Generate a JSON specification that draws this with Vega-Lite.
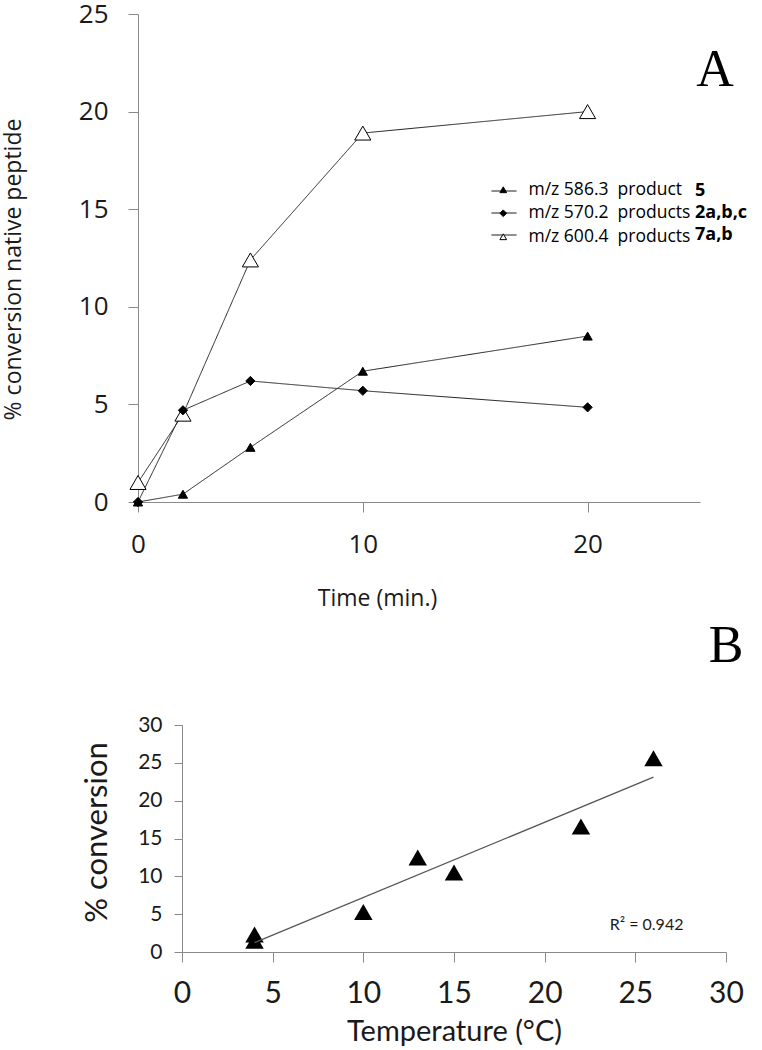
{
  "$schema": "https://vega.github.io/schema/vega-lite/v6.json",
  "background": "white",
  "padding": {"left": 2, "top": 1, "right": 0, "bottom": 0},
  "bounds": "flush",
  "spacing": 223,
  "config": {
    "view": {"stroke": null},
    "axis": {"grid": false, "domainColor": "#898989", "tickColor": "#898989", "labelColor": "#1a1a1a", "titleColor": "#1a1a1a", "titleFontWeight": "normal", "labelOverlap": false, "labelFlush": false}
  },
  "vconcat": [
    {
      "width": 562,
      "height": 488,
      "data": {"values": [
        {"time": 0, "conv": 1.0, "series": "m/z 600.4\u00a0 products", "cmpd": "7a,b"},
        {"time": 2, "conv": 4.5, "series": "m/z 600.4\u00a0 products", "cmpd": "7a,b"},
        {"time": 5, "conv": 12.4, "series": "m/z 600.4\u00a0 products", "cmpd": "7a,b"},
        {"time": 10, "conv": 18.9, "series": "m/z 600.4\u00a0 products", "cmpd": "7a,b"},
        {"time": 20, "conv": 20.0, "series": "m/z 600.4\u00a0 products", "cmpd": "7a,b"},
        {"time": 0, "conv": 0.0, "series": "m/z 586.3\u00a0 product", "cmpd": "5"},
        {"time": 2, "conv": 0.4, "series": "m/z 586.3\u00a0 product", "cmpd": "5"},
        {"time": 5, "conv": 2.8, "series": "m/z 586.3\u00a0 product", "cmpd": "5"},
        {"time": 10, "conv": 6.7, "series": "m/z 586.3\u00a0 product", "cmpd": "5"},
        {"time": 20, "conv": 8.5, "series": "m/z 586.3\u00a0 product", "cmpd": "5"},
        {"time": 0, "conv": 0.0, "series": "m/z 570.2\u00a0 products", "cmpd": "2a,b,c"},
        {"time": 2, "conv": 4.7, "series": "m/z 570.2\u00a0 products", "cmpd": "2a,b,c"},
        {"time": 5, "conv": 6.2, "series": "m/z 570.2\u00a0 products", "cmpd": "2a,b,c"},
        {"time": 10, "conv": 5.7, "series": "m/z 570.2\u00a0 products", "cmpd": "2a,b,c"},
        {"time": 20, "conv": 4.85, "series": "m/z 570.2\u00a0 products", "cmpd": "2a,b,c"}
      ]},
      "layer": [
        {
          "mark": {"type": "line", "color": "#222222", "strokeWidth": 1},
          "encoding": {
            "x": {"field": "time", "type": "quantitative", "scale": {"domain": [0, 25], "nice": false, "zero": false},
              "axis": {"values": [0, 10, 20], "title": "Time (min.)", "tickSize": 10, "labelFont": "Open Sans", "labelFontSize": 26, "labelPadding": 19, "titleFont": "Open Sans", "titleFontSize": 23, "titlePadding": 30, "titleX": 239}},
            "y": {"field": "conv", "type": "quantitative", "scale": {"domain": [0, 25], "nice": false, "zero": false},
              "axis": {"values": [0, 5, 10, 15, 20, 25], "title": "% conversion native peptide", "tickSize": 10, "labelFont": "Open Sans", "labelFontSize": 26, "labelPadding": 20, "titleFont": "Open Sans", "titleFontSize": 23, "titlePadding": 53, "titleY": 255}},
            "strokeDash": {"field": "cmpd", "type": "nominal",
              "scale": {"domain": ["5", "2a,b,c", "7a,b"], "range": [[1, 0], [1, 0], [1, 0]]},
              "legend": {"orient": "none", "legendX": 353, "legendY": 164, "title": null, "padding": 0, "symbolType": "stroke", "symbolSize": 625, "symbolStrokeWidth": 1, "symbolStrokeColor": "#000000", "labelFont": "Open Sans", "labelFontSize": 18, "labelFontWeight": "bold", "labelColor": "#000000", "labelOffset": 178, "labelLimit": 300, "rowPadding": -1}}
          }
        },
        {
          "transform": [{"filter": "datum.cmpd == '7a,b'"}],
          "mark": {"type": "point", "filled": true, "size": 260, "strokeWidth": 1, "opacity": 1},
          "encoding": {
            "x": {"field": "time", "type": "quantitative", "scale": {"domain": [0, 25], "nice": false, "zero": false},
              "axis": {"values": [0, 10, 20], "title": "Time (min.)", "tickSize": 10, "labelFont": "Open Sans", "labelFontSize": 26, "labelPadding": 19, "titleFont": "Open Sans", "titleFontSize": 23, "titlePadding": 30, "titleX": 239}},
            "y": {"field": "conv", "type": "quantitative", "scale": {"domain": [0, 25], "nice": false, "zero": false},
              "axis": {"values": [0, 5, 10, 15, 20, 25], "title": "% conversion native peptide", "tickSize": 10, "labelFont": "Open Sans", "labelFontSize": 26, "labelPadding": 20, "titleFont": "Open Sans", "titleFontSize": 23, "titlePadding": 53, "titleY": 255}},
            "shape": {"field": "series", "type": "nominal",
              "scale": {"domain": ["m/z 586.3\u00a0 product", "m/z 570.2\u00a0 products", "m/z 600.4\u00a0 products"], "range": ["triangle-up", "diamond", "triangle-up"]},
              "legend": {"orient": "none", "legendX": 356.5, "legendY": 167, "title": null, "padding": 0, "symbolSize": 45, "symbolStrokeWidth": 1, "labelFont": "Open Sans", "labelFontSize": 17.5, "labelColor": "#000000", "labelOffset": 16.5, "labelLimit": 300, "rowPadding": 4.5}},
            "fill": {"field": "series", "type": "nominal",
              "scale": {"domain": ["m/z 586.3\u00a0 product", "m/z 570.2\u00a0 products", "m/z 600.4\u00a0 products"], "range": ["#000000", "#000000", "#ffffff"]}},
            "stroke": {"field": "series", "type": "nominal",
              "scale": {"domain": ["m/z 586.3\u00a0 product", "m/z 570.2\u00a0 products", "m/z 600.4\u00a0 products"], "range": ["#000000", "#000000", "#000000"]}}
          }
        },
        {
          "transform": [{"filter": "datum.cmpd != '7a,b'"}],
          "mark": {"type": "point", "filled": true, "size": 85, "strokeWidth": 1, "opacity": 1},
          "encoding": {
            "x": {"field": "time", "type": "quantitative", "scale": {"domain": [0, 25], "nice": false, "zero": false},
              "axis": {"values": [0, 10, 20], "title": "Time (min.)", "tickSize": 10, "labelFont": "Open Sans", "labelFontSize": 26, "labelPadding": 19, "titleFont": "Open Sans", "titleFontSize": 23, "titlePadding": 30, "titleX": 239}},
            "y": {"field": "conv", "type": "quantitative", "scale": {"domain": [0, 25], "nice": false, "zero": false},
              "axis": {"values": [0, 5, 10, 15, 20, 25], "title": "% conversion native peptide", "tickSize": 10, "labelFont": "Open Sans", "labelFontSize": 26, "labelPadding": 20, "titleFont": "Open Sans", "titleFontSize": 23, "titlePadding": 53, "titleY": 255}},
            "shape": {"field": "series", "type": "nominal"},
            "fill": {"field": "series", "type": "nominal"},
            "stroke": {"field": "series", "type": "nominal"}
          }
        },
        {
          "data": {"values": [{"label": "A"}]},
          "mark": {"type": "text", "font": "Liberation Serif", "fontSize": 52, "align": "center", "baseline": "middle", "color": "#000000"},
          "encoding": {
            "x": {"datum": 25.67, "type": "quantitative", "scale": {"domain": [0, 25], "nice": false, "zero": false},
              "axis": {"values": [0, 10, 20], "title": "Time (min.)", "tickSize": 10, "labelFont": "Open Sans", "labelFontSize": 26, "labelPadding": 19, "titleFont": "Open Sans", "titleFontSize": 23, "titlePadding": 30, "titleX": 239}},
            "y": {"datum": 22.13, "type": "quantitative", "scale": {"domain": [0, 25], "nice": false, "zero": false},
              "axis": {"values": [0, 5, 10, 15, 20, 25], "title": "% conversion native peptide", "tickSize": 10, "labelFont": "Open Sans", "labelFontSize": 26, "labelPadding": 20, "titleFont": "Open Sans", "titleFontSize": 23, "titlePadding": 53, "titleY": 255}},
            "text": {"field": "label", "type": "nominal"}
          }
        }
      ]
    },
    {
      "hconcat": [
        {
          "width": 44,
          "height": 227,
          "data": {"values": [{"label": "spacer"}]},
          "mark": {"type": "point", "opacity": 0},
          "encoding": {}
        },
        {
          "width": 544,
          "height": 227,
          "data": {"values": [
            {"temp": 4, "conv": 2.3},
            {"temp": 4, "conv": 1.5},
            {"temp": 10, "conv": 5.3},
            {"temp": 13, "conv": 12.5},
            {"temp": 15, "conv": 10.5},
            {"temp": 22, "conv": 16.6},
            {"temp": 26, "conv": 25.6}
          ]},
          "layer": [
            {
              "mark": {"type": "point", "shape": "triangle-up", "filled": true, "size": 340, "color": "#000000", "opacity": 1},
              "encoding": {
                "x": {"field": "temp", "type": "quantitative", "scale": {"domain": [0, 30], "nice": false, "zero": false},
                  "axis": {"values": [0, 5, 10, 15, 20, 25, 30], "title": "Temperature (\u00b0C)", "tickSize": 10, "labelFont": "Lato", "labelFontSize": 30, "labelPadding": 16, "titleFont": "Lato", "titleFontSize": 29, "titlePadding": 9}},
                "y": {"field": "conv", "type": "quantitative", "scale": {"domain": [0, 30], "nice": false, "zero": false},
                  "axis": {"values": [0, 5, 10, 15, 20, 25, 30], "title": "% conversion", "tickSize": 8, "labelFont": "Lato", "labelFontSize": 21, "labelPadding": 12, "titleFont": "Lato", "titleFontSize": 31, "titlePadding": 24, "titleY": 107}}
              }
            },
            {
              "transform": [{"regression": "conv", "on": "temp"}],
              "mark": {"type": "line", "color": "#555555", "strokeWidth": 1.3},
              "encoding": {
                "x": {"field": "temp", "type": "quantitative", "scale": {"domain": [0, 30], "nice": false, "zero": false},
                  "axis": {"values": [0, 5, 10, 15, 20, 25, 30], "title": "Temperature (\u00b0C)", "tickSize": 10, "labelFont": "Lato", "labelFontSize": 30, "labelPadding": 16, "titleFont": "Lato", "titleFontSize": 29, "titlePadding": 9}},
                "y": {"field": "conv", "type": "quantitative", "scale": {"domain": [0, 30], "nice": false, "zero": false},
                  "axis": {"values": [0, 5, 10, 15, 20, 25, 30], "title": "% conversion", "tickSize": 8, "labelFont": "Lato", "labelFontSize": 21, "labelPadding": 12, "titleFont": "Lato", "titleFontSize": 31, "titlePadding": 24, "titleY": 107}}
              }
            },
            {
              "data": {"values": [{"label": "R\u00b2 = 0.942"}]},
              "mark": {"type": "text", "font": "Lato", "fontSize": 16, "align": "center", "baseline": "middle", "color": "#1a1a1a"},
              "encoding": {
                "x": {"datum": 25.62, "type": "quantitative", "scale": {"domain": [0, 30], "nice": false, "zero": false},
                  "axis": {"values": [0, 5, 10, 15, 20, 25, 30], "title": "Temperature (\u00b0C)", "tickSize": 10, "labelFont": "Lato", "labelFontSize": 30, "labelPadding": 16, "titleFont": "Lato", "titleFontSize": 29, "titlePadding": 9}},
                "y": {"datum": 3.57, "type": "quantitative", "scale": {"domain": [0, 30], "nice": false, "zero": false},
                  "axis": {"values": [0, 5, 10, 15, 20, 25, 30], "title": "% conversion", "tickSize": 8, "labelFont": "Lato", "labelFontSize": 21, "labelPadding": 12, "titleFont": "Lato", "titleFontSize": 31, "titlePadding": 24, "titleY": 107}},
                "text": {"field": "label", "type": "nominal"}
              }
            },
            {
              "data": {"values": [{"label": "B"}]},
              "mark": {"type": "text", "font": "Liberation Serif", "fontSize": 52, "align": "center", "baseline": "middle", "color": "#000000"},
              "encoding": {
                "x": {"datum": 30.0, "type": "quantitative", "scale": {"domain": [0, 30], "nice": false, "zero": false},
                  "axis": {"values": [0, 5, 10, 15, 20, 25, 30], "title": "Temperature (\u00b0C)", "tickSize": 10, "labelFont": "Lato", "labelFontSize": 30, "labelPadding": 16, "titleFont": "Lato", "titleFontSize": 29, "titlePadding": 9}},
                "y": {"datum": 40.5, "type": "quantitative", "scale": {"domain": [0, 30], "nice": false, "zero": false},
                  "axis": {"values": [0, 5, 10, 15, 20, 25, 30], "title": "% conversion", "tickSize": 8, "labelFont": "Lato", "labelFontSize": 21, "labelPadding": 12, "titleFont": "Lato", "titleFontSize": 31, "titlePadding": 24, "titleY": 107}},
                "text": {"field": "label", "type": "nominal"}
              }
            }
          ]
        }
      ],
      "spacing": 0,
      "bounds": "flush"
    }
  ]
}
